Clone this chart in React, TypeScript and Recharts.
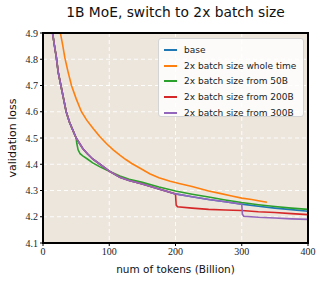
import { LineChart, Line, XAxis, YAxis, CartesianGrid } from 'recharts'

const xTicks = [0, 100, 200, 300, 400]
const yTicks = [4.1, 4.2, 4.3, 4.4, 4.5, 4.6, 4.7, 4.8, 4.9]

// base run
const baseTokens = [13, 15, 18, 20, 23, 27, 31, 35, 40, 45, 50, 55, 60, 67, 75, 86, 100, 116, 130, 150, 175, 200, 225, 250, 275, 300, 325, 350, 375, 400]
const baseLoss = [4.92, 4.89, 4.84, 4.81, 4.75, 4.7, 4.65, 4.6, 4.56, 4.53, 4.5, 4.48, 4.46, 4.44, 4.42, 4.4, 4.374, 4.35, 4.338, 4.325, 4.306, 4.287, 4.276, 4.266, 4.257, 4.248, 4.24, 4.233, 4.227, 4.221]

// 2x batch size whole time
const wholeTokens = [24, 27, 30, 33, 38, 43, 50, 58, 66, 76, 86, 96, 106, 116, 125, 134, 150, 161, 175, 192, 207, 225, 250, 267, 285, 300, 315, 325, 338]
const wholeLoss = [4.93, 4.89, 4.85, 4.805, 4.75, 4.7, 4.65, 4.6, 4.568, 4.535, 4.505, 4.478, 4.455, 4.435, 4.418, 4.403, 4.38, 4.364, 4.349, 4.335, 4.326, 4.315, 4.298, 4.289, 4.279, 4.271, 4.266, 4.261, 4.255]

// tails after the switch
const from50Tokens = [51, 53, 56, 60, 67, 75, 86, 100, 116, 130, 150, 175, 200, 225, 250, 275, 300, 325, 350, 375, 400]
const from50Loss = [4.48, 4.455, 4.44, 4.432, 4.42, 4.405, 4.39, 4.373, 4.355, 4.343, 4.331, 4.313, 4.298, 4.286, 4.275, 4.264, 4.254, 4.246, 4.239, 4.233, 4.228]

const from200Tokens = [201, 203, 225, 250, 275, 300, 325, 350, 375, 400]
const from200Loss = [4.245, 4.238, 4.233, 4.228, 4.226, 4.224, 4.219, 4.216, 4.212, 4.208]

const from300Tokens = [301, 303, 325, 350, 375, 400]
const from300Loss = [4.21, 4.202, 4.198, 4.195, 4.192, 4.19]

const pts = (xs: number[], ys: number[]) => xs.map((x, i) => ({ x, y: ys[i] }))
const base = pts(baseTokens, baseLoss)
const switched = (at: number, xs: number[], ys: number[]) =>
  base.filter((p) => p.x <= at).concat(pts(xs, ys))

const series = [
  { name: 'base', color: '#1f77b4', data: base },
  { name: '2x batch size whole time', color: '#ff7f0e', data: pts(wholeTokens, wholeLoss) },
  { name: '2x batch size from 50B', color: '#2ca02c', data: switched(50, from50Tokens, from50Loss) },
  { name: '2x batch size from 200B', color: '#d62728', data: switched(200, from200Tokens, from200Loss) },
  { name: '2x batch size from 300B', color: '#9467bd', data: switched(300, from300Tokens, from300Loss) },
]

const sans = '"DejaVu Sans", sans-serif'
const serif = '"Liberation Serif", serif'

export default function App() {
  return (
    <div style={{ position: 'absolute', left: 0, top: 0, width: 324, height: 284, background: '#fff' }}>
      <div style={{ position: 'absolute', left: 43, width: 265, top: 4, textAlign: 'center', fontFamily: sans, fontSize: 13.8, color: '#111' }}>
        1B MoE, switch to 2x batch size
      </div>
      <div style={{ position: 'absolute', left: 43, width: 265, top: 263, textAlign: 'center', fontFamily: sans, fontSize: 10.5, color: '#111' }}>
        num of tokens (Billion)
      </div>
      <div style={{ position: 'absolute', left: 12, top: 138, transform: 'translate(-50%, -50%) rotate(-90deg)', whiteSpace: 'nowrap', fontFamily: sans, fontSize: 11, color: '#111' }}>
        validation loss
      </div>
      <LineChart width={324} height={284} margin={{ top: 33, right: 16, bottom: 11, left: 0 }}>
        <CartesianGrid fill="#ece6dc" stroke="#fff" strokeDasharray="4 3" strokeWidth={0.9} horizontalValues={yTicks} verticalValues={xTicks} />
        <XAxis
          type="number"
          dataKey="x"
          domain={[0, 400]}
          ticks={xTicks}
          allowDataOverflow
          tickSize={3}
          tickMargin={2}
          axisLine={false}
          tickLine={{ stroke: '#000' }}
          tick={{ fontFamily: serif, fontSize: 10, fill: '#222' }}
          height={30}
        />
        <YAxis
          type="number"
          domain={[4.1, 4.9]}
          ticks={yTicks}
          allowDataOverflow
          tickSize={3}
          tickMargin={2}
          axisLine={false}
          tickLine={{ stroke: '#000' }}
          tick={{ fontFamily: serif, fontSize: 10, fill: '#222' }}
          width={43}
        />
        {series.map((s) => (
          <Line
            key={s.name}
            data={s.data}
            dataKey="y"
            type="linear"
            stroke={s.color}
            strokeWidth={1.6}
            dot={false}
            isAnimationActive={false}
          />
        ))}
      </LineChart>
      <div style={{ position: 'absolute', left: 42, top: 32, width: 267, height: 212, boxSizing: 'border-box', border: '2px solid #000', pointerEvents: 'none' }} />
      <div
        style={{
          position: 'absolute',
          left: 158,
          top: 38,
          width: 146,
          height: 79,
          boxSizing: 'border-box',
          background: 'rgba(255,255,255,0.82)',
          border: '1px solid #d4d4d4',
          borderRadius: 3,
          fontFamily: sans,
          fontSize: 9,
          color: '#222',
          paddingTop: 3,
        }}
      >
        {series.map((s) => (
          <div key={s.name} style={{ display: 'flex', alignItems: 'center', height: 15.8 }}>
            <div style={{ width: 13, height: 2, background: s.color, marginLeft: 5, marginRight: 7 }} />
            <span>{s.name}</span>
          </div>
        ))}
      </div>
    </div>
  )
}
